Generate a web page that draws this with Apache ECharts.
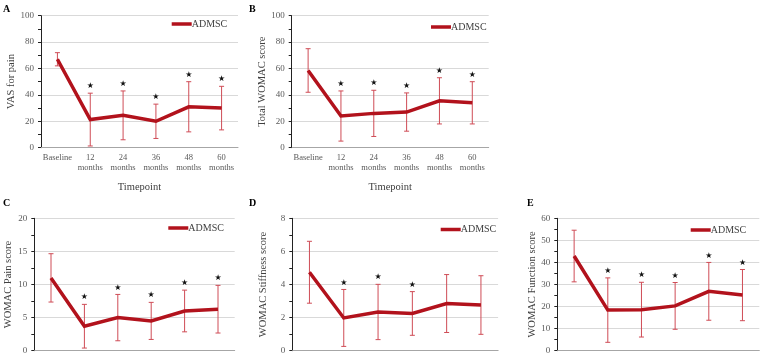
<!DOCTYPE html>
<html><head><meta charset="utf-8">
<script src="https://cdn.jsdelivr.net/npm/echarts@6/dist/echarts.min.js"></script>
<style>html,body{margin:0;padding:0;background:#fff}#c{width:761px;height:355px}</style>
</head><body><div id="c"></div>
<script>
// ---- data ----
const categories = ['Baseline', '12\nmonths', '24\nmonths', '36\nmonths', '48\nmonths', '60\nmonths'];
const seriesName = 'ADMSC';

const vasMean = [67, 21.3, 24.5, 20, 31, 30];
const vasSD   = [5, 20, 18.5, 13, 19, 16.5];
const vasStar = [0, 1, 1, 1, 1, 1];

const totalMean = [58.5, 24, 26, 27, 35.5, 34];
const totalSD   = [16.5, 19, 17.5, 14.5, 17.5, 16];
const totalStar = [0, 1, 1, 1, 1, 1];

const painMean = [11, 3.7, 5.0, 4.5, 6.0, 6.27];
const painSD   = [3.65, 3.3, 3.5, 2.8, 3.15, 3.6];
const painStar = [0, 1, 1, 1, 1, 1];

const stiffMean = [4.74, 1.98, 2.34, 2.25, 2.85, 2.76];
const stiffSD   = [1.87, 1.72, 1.67, 1.32, 1.75, 1.77];
const stiffStar = [0, 1, 1, 1, 0, 0];

const funcMean = [42.9, 18.4, 18.6, 20.3, 26.9, 25.2];
const funcSD   = [11.7, 14.6, 12.4, 10.6, 13.1, 11.6];
const funcStar = [0, 1, 1, 1, 1, 1];

const panelLetters = ['A', 'B', 'C', 'D', 'E'];
const yTitles = ['VAS for pain', 'Total WOMAC score', 'WOMAC Pain score', 'WOMAC Stiffness score', 'WOMAC Function score'];
const yMax = [100, 100, 20, 8, 60];
const yStep = [20, 20, 5, 2, 10];
const xTitle = 'Timepoint';

// ---- layout ----
const panels = [
  {mean: vasMean, sd: vasSD, star: vasStar, grid: {left: 41, top: 15.7, width: 197, height: 132}, nameGap: 24, legend: {left: 171.7, top: 19}, letter: [3, 4], xName: true},
  {mean: totalMean, sd: totalSD, star: totalStar, grid: {left: 291.7, top: 15.7, width: 197, height: 132}, nameGap: 24, legend: {left: 431, top: 22}, letter: [249, 4], xName: true},
  {mean: painMean, sd: painSD, star: painStar, grid: {left: 34.3, top: 218.3, width: 200.4, height: 132.4}, nameGap: 21, legend: {left: 168.3, top: 223}, letter: [3, 198], xName: false},
  {mean: stiffMean, sd: stiffSD, star: stiffStar, grid: {left: 292.3, top: 218.3, width: 205.8, height: 132.4}, nameGap: 24, legend: {left: 440.7, top: 224.5}, letter: [249, 198], xName: false},
  {mean: funcMean, sd: funcSD, star: funcStar, grid: {left: 557.3, top: 218.3, width: 202, height: 132.4}, nameGap: 20, legend: {left: 690.7, top: 225}, letter: [527, 198], xName: false}
];

const LINE_COLOR = '#b2121c';
const ERR_COLOR = '#cf4c56';
const SERIF = '"Liberation Serif", "DejaVu Serif", serif';

function errItem(params, api) {
  const i = api.value(0), m = api.value(1), s = api.value(2), st = api.value(3);
  const top = api.coord([i, m + s]);
  const bot = api.coord([i, m - s]);
  const x = top[0], w = 2.5;
  const style = {stroke: ERR_COLOR, lineWidth: 1};
  const children = [
    {type: 'line', shape: {x1: x, y1: top[1], x2: x, y2: bot[1]}, style: style},
    {type: 'line', shape: {x1: x - w, y1: top[1], x2: x + w, y2: top[1]}, style: style},
    {type: 'line', shape: {x1: x - w, y1: bot[1], x2: x + w, y2: bot[1]}, style: style}
  ];
  if (st) {
    children.push({type: 'text', style: {text: '★', x: x, y: top[1] - 7, align: 'center', verticalAlign: 'middle', font: '8px "DejaVu Sans"', fill: '#111'}});
  }
  return {type: 'group', children: children};
}

const option = {
  animation: false,
  backgroundColor: '#fff',
  grid: [], xAxis: [], yAxis: [], series: [], legend: [], graphic: []
};

panels.forEach((p, k) => {
  option.grid.push(Object.assign({containLabel: false, outerBoundsMode: 'none'}, p.grid));
  option.xAxis.push({
    type: 'category', gridIndex: k, data: categories, boundaryGap: true,
    axisTick: {show: false},
    axisLine: {lineStyle: {color: '#a6a6a6', width: 1}},
    axisLabel: {interval: 0, fontFamily: SERIF, fontSize: 8.5, color: '#595959', lineHeight: 10, margin: 5},
    name: p.xName ? xTitle : '', nameLocation: 'middle', nameGap: 34,
    nameTextStyle: {fontFamily: SERIF, fontSize: 10.5, color: '#404040'}
  });
  option.yAxis.push({
    type: 'value', gridIndex: k, min: 0, max: yMax[k], interval: yStep[k],
    axisLine: {show: true, lineStyle: {color: '#222', width: 1}},
    axisTick: {show: true, inside: false, length: 3, lineStyle: {color: '#222'}},
    minorTick: {show: true, splitNumber: 2, length: 3, lineStyle: {color: '#222'}},
    splitLine: {show: true, lineStyle: {color: '#d9d9d9', width: 1}},
    axisLabel: {fontFamily: SERIF, fontSize: 9, color: '#595959', margin: 7},
    name: yTitles[k], nameLocation: 'middle', nameGap: p.nameGap,
    nameTextStyle: {fontFamily: SERIF, fontSize: 10.5, color: '#404040'}
  });
  const errData = p.mean.map((m, i) => [i, m, p.sd[i], p.star[i]]);
  option.series.push({
    type: 'custom', name: 'err' + k, xAxisIndex: k, yAxisIndex: k, z: 2,
    renderItem: errItem, encode: {x: 0, y: 1}, data: errData, silent: true
  });
  option.series.push({
    type: 'line', name: seriesName, xAxisIndex: k, yAxisIndex: k, z: 3,
    data: p.mean, symbol: 'none', showSymbol: false,
    lineStyle: {color: LINE_COLOR, width: 3.5, join: 'miter'},
    itemStyle: {color: LINE_COLOR}
  });
  option.legend.push({
    data: [{name: seriesName, icon: 'rect'}], left: p.legend.left, top: p.legend.top,
    padding: 0, itemWidth: 20, itemHeight: 3.5, itemGap: 0, selectedMode: false,
    textStyle: {fontFamily: SERIF, fontSize: 10, color: '#404040', padding: [0, 0, 0, -5]}
  });
  option.graphic.push({
    type: 'text', left: p.letter[0], top: p.letter[1],
    style: {text: panelLetters[k], font: 'bold 10px ' + SERIF, fill: '#000'}
  });
});

const chart = echarts.init(document.getElementById('c'), null, {renderer: 'canvas'});
chart.setOption(option);
</script>
</body></html>
